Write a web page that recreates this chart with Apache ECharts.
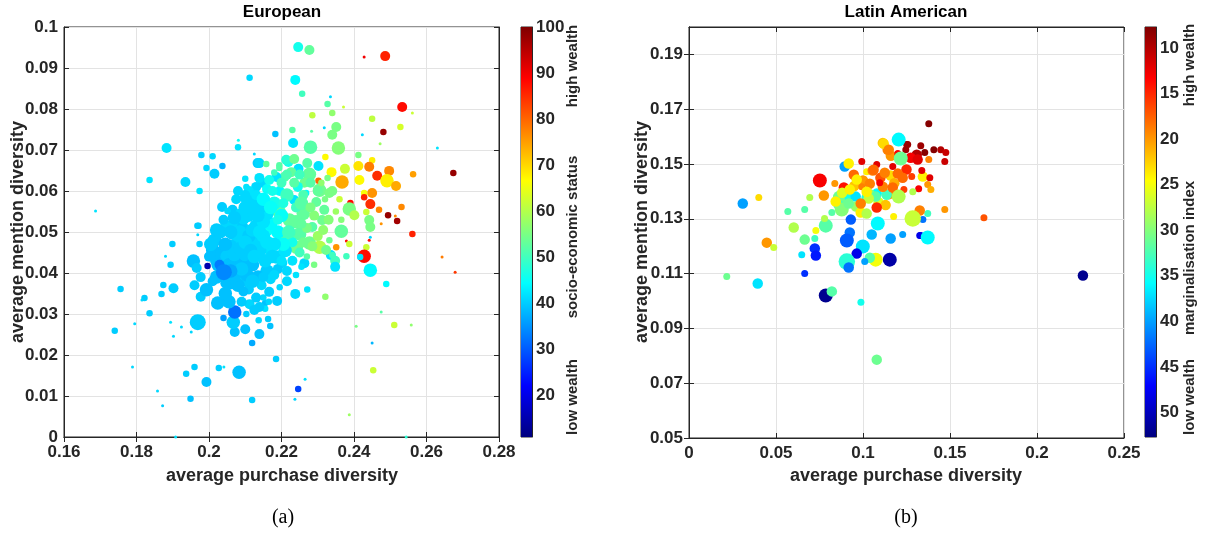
<!DOCTYPE html>
<html>
<head>
<meta charset="utf-8">
<script src="https://cdn.jsdelivr.net/npm/echarts@6/dist/echarts.min.js"></script>
<style>
  html, body { margin: 0; padding: 0; background: #fff; }
  #chart { width: 1206px; height: 535px; }
</style>
</head>
<body>
<div id="chart"></div>
<script>
// [average purchase diversity, average mention diversity, weight class, socio-economic status]
const euroPoints = [
  [0.1687,0.0551,1,42],[0.1883,0.0705,3,42],[0.1836,0.0627,2,42],[0.1935,0.0622,3,41],[0.1974,0.0600,2,42],
  [0.1993,0.0656,2,41],[0.2010,0.0685,2,41],[0.1979,0.0688,2,40],[0.2015,0.0642,3,40],[0.2037,0.0661,2,38],
  [0.2112,0.0876,2,41],[0.2080,0.0707,2,42],[0.2081,0.0724,1,45],[0.2125,0.0690,1,41],[0.2134,0.0668,3,40],
  [0.2183,0.0739,2,39],[0.2246,0.0951,3,46],[0.2277,0.0944,3,53],[0.2428,0.0927,1,90],[0.2486,0.0929,3,86],
  [0.2238,0.0871,3,44],[0.2257,0.0837,2,50],[0.2335,0.0830,1,41],[0.2327,0.0812,2,52],[0.2371,0.0805,1,62],
  [0.2285,0.0785,2,61],[0.2340,0.0790,2,57],[0.2533,0.0805,3,88],[0.2561,0.0790,1,62],[0.2450,0.0776,2,61],
  [0.2528,0.0756,2,63],[0.2481,0.0744,2,98],[0.2230,0.0749,2,52],[0.2283,0.0746,1,52],[0.2318,0.0754,1,41],
  [0.2351,0.0756,3,55],[0.2340,0.0737,3,55],[0.2232,0.0717,3,42],[0.2280,0.0707,4,52],[0.2357,0.0705,4,56],
  [0.2423,0.0737,1,41],[0.2472,0.0715,1,58],[0.2630,0.0705,1,42],[0.2674,0.0644,2,98],[0.2412,0.0688,2,55],
  [0.2450,0.0675,2,68],[0.2321,0.0683,2,67],[0.2412,0.0661,3,69],[0.2442,0.0659,3,78],[0.2375,0.0654,3,62],
  [0.2497,0.0649,3,77],[0.2464,0.0637,3,85],[0.2563,0.0641,2,75],[0.2415,0.0627,3,67],[0.2491,0.0625,4,68],
  [0.2516,0.0612,3,74],[0.2367,0.0622,4,74],[0.2450,0.0595,3,76],[0.2428,0.0595,2,66],[0.2302,0.0625,2,80],
  [0.2338,0.0646,3,67],[0.2277,0.0641,4,53],[0.2302,0.0661,3,42],[0.2247,0.0654,3,42],[0.2219,0.0671,3,46],
  [0.2208,0.0634,3,52],[0.2147,0.0620,3,41],[0.2139,0.0668,3,41],[0.2158,0.0666,2,53],
  [0.2531,0.0561,2,77],[0.2494,0.0541,2,98],[0.2519,0.0527,2,97],[0.2514,0.0539,1,77],[0.2469,0.0554,2,77],
  [0.2475,0.0520,1,76],[0.2445,0.0568,3,85],[0.2428,0.0585,2,86],[0.2390,0.0571,2,88],[0.2434,0.0549,2,62],
  [0.2442,0.0529,3,55],[0.2445,0.0512,3,55],[0.2387,0.0556,4,55],[0.2401,0.0541,3,60],[0.2365,0.0502,4,53],
  [0.2561,0.0495,2,86],[0.2442,0.0480,1,88],[0.2445,0.0487,1,41],[0.2434,0.0463,2,62],[0.2379,0.0478,1,88],
  [0.2387,0.0471,2,62],[0.2351,0.0463,2,76],[0.2428,0.0441,4,88],[0.2417,0.0439,2,42],[0.2379,0.0441,2,50],
  [0.2336,0.0444,3,42],[0.2348,0.0430,3,50],[0.2348,0.0415,3,42],[0.2445,0.0407,4,44],[0.2489,0.0373,2,44],
  [0.2643,0.0439,1,78],[0.2679,0.0402,1,84],[0.2475,0.0305,1,52],[0.2511,0.0273,2,62],[0.2406,0.0270,1,55],
  [0.2558,0.0273,1,57],[0.2450,0.0229,1,38],[0.2453,0.0163,2,62],[0.2387,0.0054,1,58],[0.2544,0.0000,1,48],
  [0.2321,0.0342,2,57],[0.2271,0.0360,2,42],[0.2238,0.0349,3,41],[0.2188,0.0332,3,40],[0.2166,0.0354,3,40],
  [0.2155,0.0327,2,39],[0.2163,0.0288,2,40],[0.2169,0.0271,2,39],[0.2139,0.0251,3,39],[0.2119,0.0229,2,37],
  [0.2112,0.0324,3,41],[0.2100,0.0263,3,39],[0.2071,0.0256,3,39],[0.2067,0.0280,4,40],[0.2071,0.0305,4,32],
  [0.2155,0.0313,2,42],[0.2185,0.0190,2,40],[0.2246,0.0117,2,28],[0.2237,0.0092,1,41],[0.2265,0.0141,1,42],
  [0.2119,0.0090,2,40],[0.2083,0.0158,4,39],[0.1993,0.0134,3,39],[0.1960,0.0171,2,40],[0.2027,0.0168,2,40],
  [0.2041,0.0171,1,42],[0.1937,0.0154,2,40],[0.1949,0.0093,2,39],[0.1858,0.0112,1,41],[0.1872,0.0076,1,40],
  [0.1908,0.0000,1,42],[0.1969,0.0280,5,40],[0.1951,0.0256,1,41],[0.1924,0.0268,1,41],[0.1902,0.0246,1,41],
  [0.1894,0.0280,1,42],[0.1836,0.0302,2,40],[0.1874,0.0371,2,40],[0.1869,0.0349,2,40],[0.1902,0.0363,3,40],
  [0.1894,0.0420,2,40],[0.1899,0.0471,2,40],[0.1957,0.0429,4,39],[0.1966,0.0412,3,40],
  [0.1971,0.0515,2,40],[0.1969,0.0493,1,41],[0.1974,0.0471,2,40],[0.2036,0.0561,3,40],[0.2054,0.0551,2,40],
  [0.1756,0.0361,2,40],[0.1740,0.0259,2,40],[0.1795,0.0276,1,41],[0.1822,0.0339,2,40],[0.1815,0.0334,1,41],
  [0.1789,0.0171,1,41],[0.1880,0.0441,1,41],[0.2139,0.0317,3,40],[0.2024,0.0327,4,39],[0.1977,0.0342,3,40],
  [0.1993,0.0359,4,39],[0.1977,0.0390,3,40],[0.2021,0.0390,4,39],[0.2059,0.0376,4,39],[0.2055,0.0330,4,39],
  [0.2095,0.0383,4,40],[0.2095,0.0432,4,39],[0.2021,0.0432,4,39],[0.1960,0.0370,3,40],[0.2103,0.0300,2,40],
  [0.2137,0.0285,2,41],
  [0.2194,0.0663,2,52],[0.2213,0.0676,3,48],[0.2235,0.0678,3,54],[0.2271,0.0668,3,52],[0.2327,0.0632,2,55],
  [0.2305,0.0602,4,54],[0.2332,0.0595,3,55],[0.2263,0.0620,3,54],[0.2227,0.0646,3,53],[0.2194,0.0656,2,52],
  [0.2186,0.0634,3,42],[0.2166,0.0627,3,46],[0.2139,0.0632,3,42],[0.2130,0.0610,3,41],[0.2103,0.0610,2,42],
  [0.2117,0.0590,3,41],[0.2098,0.0583,3,41],[0.2109,0.0541,4,41],[0.2090,0.0512,4,40],[0.2065,0.0554,3,40],
  [0.2051,0.0551,2,41],[0.2048,0.0512,4,41],[0.2021,0.0505,4,40],[0.2015,0.0480,4,40],[0.2010,0.0456,4,39],
  [0.2037,0.0451,4,39],[0.1968,0.0515,2,40],[0.2065,0.0493,3,40],[0.2079,0.0473,4,41],
  [0.2131,0.0480,4,41],[0.2158,0.0505,4,45],[0.2166,0.0461,4,42],[0.2186,0.0439,4,41],[0.2202,0.0473,4,44],
  [0.2194,0.0549,4,52],[0.2222,0.0529,4,53],[0.2216,0.0488,4,52],[0.2241,0.0463,4,54],[0.2235,0.0578,3,42],
  [0.2268,0.0595,2,44],[0.2296,0.0573,3,53],[0.2318,0.0554,3,53],[0.2312,0.0529,3,54],[0.2285,0.0512,3,52],
  [0.2277,0.0473,4,54],[0.2305,0.0463,4,60],[0.2323,0.0456,3,54],[0.2340,0.0444,2,50],[0.2332,0.0480,2,54],
  [0.2263,0.0424,3,41],[0.2202,0.0424,3,41],[0.2255,0.0415,2,42],
  [0.2050,0.0440,4,40],[0.2075,0.0425,4,39],[0.2100,0.0445,4,40],[0.2120,0.0420,4,39],[0.2140,0.0455,4,41],
  [0.2060,0.0465,4,40],[0.2085,0.0500,4,41],[0.2110,0.0490,4,40],[0.2130,0.0515,4,41],[0.2150,0.0490,4,42],
  [0.2170,0.0520,4,44],[0.2160,0.0545,4,42],[0.2140,0.0560,4,41],[0.2120,0.0575,3,41],[0.2180,0.0570,4,46],
  [0.2195,0.0600,3,44],[0.2215,0.0590,4,50],[0.2200,0.0540,4,45],[0.2190,0.0500,4,44],[0.2210,0.0455,4,42],
  [0.2230,0.0430,3,42],[0.2250,0.0495,4,52],[0.2260,0.0545,4,53],[0.2240,0.0560,3,50],[0.2245,0.0610,3,46],
  [0.2190,0.0410,3,40],[0.2160,0.0405,4,40],[0.2135,0.0390,4,39],[0.2105,0.0395,4,39],[0.2080,0.0370,4,39],
  [0.2110,0.0360,3,40],[0.2145,0.0370,3,41],[0.2170,0.0385,3,41],[0.2035,0.0395,3,38],[0.2000,0.0440,3,39],
  [0.2020,0.0480,3,40],[0.2065,0.0520,3,41],[0.2095,0.0535,4,41],[0.2110,0.0600,3,42],[0.2075,0.0580,3,41],
  [0.2100,0.0630,2,42],[0.2160,0.0605,3,45],[0.2180,0.0645,2,50],[0.2270,0.0510,3,55],[0.2290,0.0540,3,56],
  [0.2260,0.0590,3,51],[0.2300,0.0490,3,58],[0.2330,0.0530,3,56],[0.2350,0.0550,2,58],[0.2320,0.0580,2,55],
  [0.2340,0.0600,3,55],[0.2360,0.0580,2,62],[0.2365,0.0530,2,56],[0.2230,0.0475,3,46],[0.2250,0.0450,3,50],
  [0.2270,0.0440,2,52],[0.2290,0.0420,2,55],[0.2240,0.0395,2,42],[0.2215,0.0380,3,41],[0.2195,0.0365,2,41],
  [0.2150,0.0340,2,41],[0.2125,0.0310,3,40],[0.2090,0.0330,3,40],[0.2045,0.0350,4,39],[0.2010,0.0380,3,39],
  [0.2040,0.0290,2,36],
  [0.2005,0.0470,4,40],[0.2030,0.0500,4,40],[0.2045,0.0470,4,39],[0.2055,0.0420,4,39],[0.2070,0.0445,4,40],
  [0.2070,0.0395,4,39],[0.2090,0.0410,4,40],[0.2085,0.0460,4,40],[0.2100,0.0475,4,41],[0.2115,0.0455,4,40],
  [0.2125,0.0440,4,41],[0.2120,0.0505,4,41],[0.2140,0.0500,4,42],[0.2150,0.0525,4,42],[0.2135,0.0540,4,41],
  [0.2120,0.0550,4,41],[0.2100,0.0560,4,41],[0.2085,0.0545,3,41],[0.2070,0.0535,4,40],[0.2060,0.0500,4,40],
  [0.2040,0.0530,3,40],[0.2080,0.0600,3,41],[0.2100,0.0590,3,41],[0.2130,0.0590,3,42],[0.2150,0.0580,4,44],
  [0.2170,0.0560,4,45],[0.2175,0.0600,3,46],[0.2200,0.0620,3,50],[0.2215,0.0640,3,51],[0.2235,0.0620,3,52],
  [0.2250,0.0640,3,50],[0.2255,0.0570,4,52],[0.2240,0.0525,4,53],[0.2220,0.0500,4,50],[0.2205,0.0470,4,45],
  [0.2180,0.0470,4,42],[0.2160,0.0475,4,42],[0.2175,0.0440,4,41],[0.2155,0.0430,4,41],[0.2200,0.0430,3,42],
  [0.2215,0.0405,3,41],[0.2180,0.0395,3,41],[0.2150,0.0390,3,40],[0.2120,0.0380,4,40],[0.2095,0.0355,3,39],
  [0.2130,0.0340,3,40],[0.2165,0.0330,2,41],[0.2060,0.0405,4,37],[0.2045,0.0375,3,39],[0.2025,0.0420,4,39],
  [0.2280,0.0560,3,55],[0.2300,0.0600,3,53],[0.2280,0.0620,3,52],[0.2310,0.0620,2,57],[0.2315,0.0505,3,57],
  [0.2285,0.0465,3,56],[0.2260,0.0475,3,54],[0.2255,0.0520,3,53],[0.2205,0.0570,3,47],[0.2190,0.0530,3,46],
  [0.2029,0.0420,3,33],[0.1996,0.0417,2,15],[0.2041,0.0402,5,34]
];

// [average purchase diversity, average mention diversity, weight class, marginalisation index]
const latinPoints = [
  [0.0309,0.1356,3,40],[0.0401,0.1378,2,23],[0.0568,0.1327,2,32],[0.0665,0.1334,2,32],[0.0694,0.1378,2,28],
  [0.0752,0.1440,4,13],[0.0775,0.1385,3,20],[0.0838,0.1429,2,20],[0.0895,0.1491,3,40],[0.0918,0.1502,3,24],
  [0.0867,0.1378,4,31],[0.0924,0.1378,3,35],[0.0958,0.1381,3,37],[0.0890,0.1414,3,14],[0.0947,0.1461,3,18],
  [0.0993,0.1509,2,12],[0.1021,0.1472,2,24],[0.1079,0.1498,2,12],[0.1056,0.1476,3,19],[0.1114,0.1577,3,22],
  [0.1142,0.1552,3,19],[0.1251,0.1571,2,9],[0.1246,0.1552,2,9],[0.1171,0.1491,2,12],
  [0.1159,0.1458,3,23],[0.1079,0.1392,3,36],[0.1021,0.1378,3,34],
  [0.0950,0.1420,3,22],[0.1000,0.1440,3,20],[0.1040,0.1390,3,30],[0.1090,0.1360,3,26],[0.1130,0.1350,3,22],
  [0.1150,0.1390,3,20],[0.0880,0.1395,3,26],[0.0860,0.1350,3,33],[0.0960,0.1345,3,29],[0.1100,0.1450,3,17],
  [0.1180,0.1430,3,21],[0.1250,0.1480,3,15],[0.1160,0.1530,3,20],
  [0.0987,0.1323,3,24],[0.0930,0.1297,3,43],[0.0924,0.1250,3,42],[0.0907,0.1221,4,43],[0.0999,0.1199,4,37],
  [0.1050,0.1243,3,39],[0.1085,0.1283,4,36],[0.1159,0.1228,3,40],[0.1176,0.1308,2,24],[0.1228,0.1243,2,40],
  [0.1326,0.1239,2,48],[0.0729,0.1257,2,25],[0.0665,0.1224,3,31],[0.0723,0.1192,3,45],[0.0729,0.1166,3,46],
  [0.0786,0.1275,4,32],[0.0821,0.1323,2,32],[0.0878,0.1334,4,30],[0.0779,0.1301,2,28],[0.0602,0.1268,3,28],
  [0.0447,0.1213,3,20],[0.0487,0.1195,2,27],
  [0.1378,0.1647,2,8],[0.1119,0.1574,3,23],[0.1148,0.1552,3,19],[0.1257,0.1571,2,9],[0.1332,0.1567,2,9],
  [0.1355,0.1542,2,8],[0.1407,0.1552,2,8],[0.1447,0.1552,2,10],[0.1476,0.1542,2,11],[0.1470,0.1509,2,11],
  [0.1309,0.1534,3,10],[0.1274,0.1523,3,13],[0.1314,0.1516,3,12],[0.1378,0.1516,2,19],[0.1200,0.1538,2,13],
  [0.1061,0.1479,3,18],[0.1125,0.1468,3,19],[0.1200,0.1465,3,18],[0.1228,0.1450,3,18],[0.1280,0.1454,2,16],
  [0.1344,0.1454,3,24],[0.1384,0.1450,2,12],[0.1338,0.1476,2,12],[0.1372,0.1425,2,20],[0.1390,0.1407,2,21],
  [0.1320,0.1410,2,13],[0.1286,0.1399,2,28],[0.1235,0.1407,2,16],[0.1136,0.1388,3,33],[0.1073,0.1381,3,32],
  [0.1033,0.1374,3,27],[0.1079,0.1341,3,15],[0.0993,0.1417,2,19],[0.1039,0.1428,3,19],[0.1114,0.1417,3,19],
  [0.1171,0.1414,3,18],[0.1096,0.1432,2,13],[0.0964,0.1443,3,24],[0.0924,0.1407,3,24],[0.1021,0.1399,3,24],
  [0.0843,0.1363,3,24],[0.0918,0.1356,3,31],[0.0987,0.1356,3,19],[0.1021,0.1319,3,28],
  [0.1344,0.1297,2,42],[0.1372,0.1319,2,33],[0.1326,0.1330,3,19],[0.1470,0.1334,2,20],[0.1332,0.1239,2,48],
  [0.1372,0.1232,4,36],[0.1217,0.1520,4,31],[0.1205,0.1589,4,36],[0.1205,0.1381,4,28],[0.1286,0.1301,5,27],
  [0.0217,0.1089,2,31],[0.0395,0.1064,3,37],[0.0648,0.1169,2,37],[0.0665,0.1100,2,45],[0.0723,0.1228,2,33],
  [0.0786,0.1020,4,52],[0.0821,0.1035,3,32],[0.0988,0.0995,2,35],[0.1079,0.0786,3,31],[0.2264,0.1093,3,52],
  [0.1695,0.1304,2,17],[0.1154,0.1151,4,51],[0.1073,0.1151,4,25],[0.1039,0.1158,3,32],[0.1010,0.1144,2,40],
  [0.0964,0.1173,3,48],[0.0907,0.1144,5,34],[0.0918,0.1122,3,42]
];

const euroXTicks = [0.16, 0.28, 0.02];          // min, max, interval
const euroYTicks = [0, 0.1, 0.01];
const latinXTicks = [0, 0.25, 0.05];
const latinYRange = [0.05, 0.2];
const latinYTicks = [0.05, 0.07, 0.09, 0.11, 0.13, 0.15, 0.17, 0.19];
const statusRange = [11, 100];
const statusTicks = [20, 30, 40, 50, 60, 70, 80, 90, 100];
const margRange = [7.7, 52.7];
const margTicks = [10, 15, 20, 25, 30, 35, 40, 45, 50];

const jet = ['#00007f', '#0000ff', '#007fff', '#00ffff', '#7fff7f', '#ffff00', '#ff7f00', '#ff0000', '#7f0000'];
const sizeScale = [0, 3, 6.5, 10, 13.5, 16];

const FONT = "'Liberation Sans', Arial, Helvetica, sans-serif";
const AX = '#262626';
const GRIDC = '#e3e3e3';

const chart = echarts.init(document.getElementById('chart'), null, { renderer: 'canvas' });

const jetGradient = new echarts.graphic.LinearGradient(0, 0, 0, 1,
  jet.slice().reverse().map((c, i) => ({ offset: i / (jet.length - 1), color: c })));

function valueAxis(grid, range, extra) {
  return Object.assign({
    type: 'value', gridIndex: grid, min: range[0], max: range[1], interval: range[2],
    axisLine: { show: true, lineStyle: { color: AX, width: 1 } },
    axisTick: { show: true, inside: true, length: 5, lineStyle: { color: AX } },
    axisLabel: { color: AX, fontFamily: FONT, fontWeight: 'bold', fontSize: 17, margin: 6 },
    splitLine: { show: true, lineStyle: { color: GRIDC, width: 1 } }
  }, extra || {});
}
function mirrorAxis(grid, range, pos, extra) {
  return Object.assign({
    type: 'value', gridIndex: grid, position: pos, min: range[0], max: range[1], interval: range[2],
    axisLine: { show: true, lineStyle: { color: AX, width: 1 } },
    axisTick: { show: true, inside: true, length: 5, lineStyle: { color: AX } },
    axisLabel: { show: false }, splitLine: { show: false }
  }, extra || {});
}
function cbAxis(grid, range, ticks, inverse) {
  return {
    type: 'value', gridIndex: grid, position: 'right', min: range[0], max: range[1], inverse: inverse,
    axisLine: { show: true, lineStyle: { color: AX, width: 1 } },
    axisTick: { show: true, inside: true, length: 4, customValues: ticks, lineStyle: { color: AX } },
    axisLabel: { color: AX, fontFamily: FONT, fontWeight: 'bold', fontSize: 17, margin: 4, customValues: ticks },
    splitLine: { show: false }
  };
}
function cbRender(params, api) {
  const a = api.coord([0, api.value(1)]);
  const b = api.coord([0, api.value(2)]);
  const w = api.size([1, 0])[0];
  return {
    type: 'rect',
    shape: { x: a[0] - w / 2, y: Math.min(a[1], b[1]), width: w, height: Math.abs(b[1] - a[1]) },
    style: { fill: jetGradient }
  };
}

function txt(text, x, y, opts) {
  return {
    type: 'text', x: x, y: y, rotation: (opts && opts.rot) || 0, silent: true,
    style: Object.assign({
      text: text, align: 'center', verticalAlign: 'middle', fill: AX,
      font: 'bold 18px ' + FONT
    }, (opts && opts.style) || {})
  };
}

const option = {
  animation: false,
  backgroundColor: '#ffffff',
  grid: [
    { left: 64, top: 27, width: 435, height: 410, show: true, borderColor: AX, borderWidth: 1 },
    { left: 521, top: 27, width: 11, height: 410, show: true, borderColor: AX, borderWidth: 1 },
    { left: 689, top: 27, width: 435, height: 411, show: true, borderColor: AX, borderWidth: 1 },
    { left: 1145, top: 27, width: 11, height: 410, show: true, borderColor: AX, borderWidth: 1 }
  ],
  xAxis: [
    valueAxis(0, euroXTicks, { axisLabel: { color: AX, fontFamily: FONT, fontWeight: 'bold', fontSize: 17, margin: 7 } }),
    mirrorAxis(0, euroXTicks, 'top'),
    { type: 'category', gridIndex: 1, data: ['cb'], show: false },
    valueAxis(2, latinXTicks, { axisLabel: { color: AX, fontFamily: FONT, fontWeight: 'bold', fontSize: 17, margin: 7 } }),
    mirrorAxis(2, latinXTicks, 'top'),
    { type: 'category', gridIndex: 3, data: ['cb'], show: false }
  ],
  yAxis: [
    valueAxis(0, euroYTicks, {}),
    mirrorAxis(0, euroYTicks, 'right'),
    cbAxis(1, statusRange, statusTicks, false),
    valueAxis(2, [latinYRange[0], latinYRange[1]], {
      interval: null,
      axisTick: { show: true, inside: true, length: 5, customValues: latinYTicks, lineStyle: { color: AX } },
      axisLabel: { color: AX, fontFamily: FONT, fontWeight: 'bold', fontSize: 17, margin: 6, customValues: latinYTicks }
    }),
    mirrorAxis(2, [latinYRange[0], latinYRange[1]], 'right', {
      interval: null,
      axisTick: { show: true, inside: true, length: 5, customValues: latinYTicks, lineStyle: { color: AX } }
    }),
    cbAxis(3, margRange, margTicks, true)
  ],
  visualMap: [
    { type: 'continuous', show: false, seriesIndex: 0, dimension: 3,
      min: statusRange[0], max: statusRange[1], inRange: { color: jet } },
    { type: 'continuous', show: false, seriesIndex: 2, dimension: 3,
      min: margRange[0], max: margRange[1], inRange: { color: jet.slice().reverse() } }
  ],
  series: [
    { type: 'scatter', xAxisIndex: 0, yAxisIndex: 0, data: euroPoints,
      symbolSize: v => sizeScale[v[2]], itemStyle: { opacity: 1 } },
    { type: 'custom', xAxisIndex: 2, yAxisIndex: 2, data: [[0, statusRange[0], statusRange[1]]],
      renderItem: cbRender, silent: true, z: 1 },
    { type: 'scatter', xAxisIndex: 3, yAxisIndex: 3, data: latinPoints,
      symbolSize: v => sizeScale[v[2]] + 0.5, itemStyle: { opacity: 1 } },
    { type: 'custom', xAxisIndex: 5, yAxisIndex: 5, data: [[0, margRange[0], margRange[1]]],
      renderItem: cbRender, silent: true, z: 1 }
  ],
  graphic: [
    txt('European', 282, 12, { style: { fill: '#000', font: 'bold 17px ' + FONT } }),
    txt('Latin American', 906, 12, { style: { fill: '#000', font: 'bold 17px ' + FONT } }),
    txt('average purchase diversity', 282, 476),
    txt('average purchase diversity', 906, 476),
    txt('average mention diversity', 18, 232, { rot: Math.PI / 2 }),
    txt('average mention diversity', 642, 232, { rot: Math.PI / 2 }),
    txt('high wealth', 573, 66, { rot: Math.PI / 2, style: { font: 'bold 15px ' + FONT } }),
    txt('socio-economic status', 573, 237, { rot: Math.PI / 2, style: { font: 'bold 15px ' + FONT } }),
    txt('low wealth', 573, 397, { rot: Math.PI / 2, style: { font: 'bold 15px ' + FONT } }),
    txt('high wealth', 1190, 65, { rot: Math.PI / 2, style: { font: 'bold 15px ' + FONT } }),
    txt('marginalisation index', 1190, 258, { rot: Math.PI / 2, style: { font: 'bold 15px ' + FONT } }),
    txt('low wealth', 1190, 397, { rot: Math.PI / 2, style: { font: 'bold 15px ' + FONT } }),
    txt('(a)', 283, 518, { style: { fill: '#000', font: '20px "Liberation Serif", "Times New Roman", serif' } }),
    txt('(b)', 906, 518, { style: { fill: '#000', font: '20px "Liberation Serif", "Times New Roman", serif' } })
  ]
};

chart.setOption(option);
</script>
</body>
</html>
